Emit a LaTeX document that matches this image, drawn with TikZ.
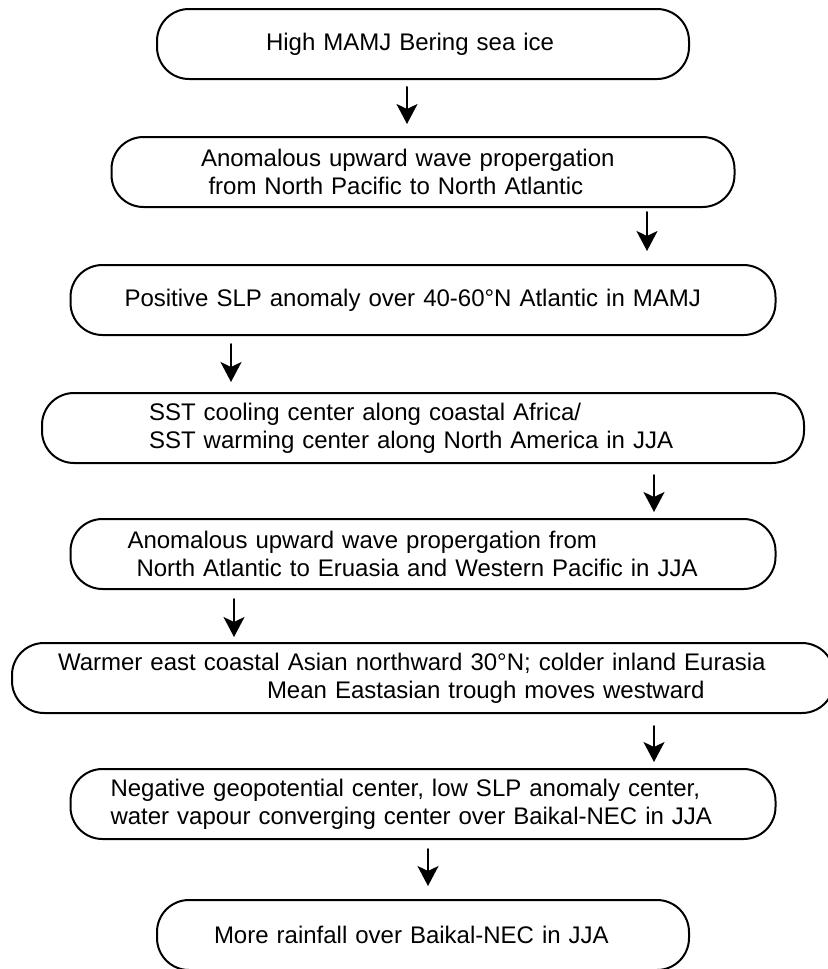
\documentclass[tikz,border=0pt]{standalone}
\usepackage{fontspec}
\setmainfont{Liberation Sans}
\usetikzlibrary{arrows.meta,calc}
\begin{document}
\begin{tikzpicture}[x=0.5pt,y=-0.5pt,font=\fontsize{12}{14}\selectfont,line cap=round,line join=round,
	stepbox/.style={draw,line width=1pt,rounded corners=16pt,minimum height=35pt,inner xsep=0pt,inner ysep=0pt,align=left},
	flow/.style={line width=1pt,-{Stealth[length=10pt,width=10.5pt,inset=2.5pt]}}]
	\useasboundingbox (0,0) rectangle (828,969);
	\node[stepbox,text width=266pt] (ice) at (423,44) {\hspace*{54.5pt}High MAMJ Bering sea ice};
	\node[stepbox,text width=311.5pt] (wave) at (423,172) {\hspace*{44.75pt}Anomalous upward wave propergation\\%
		\hspace*{48.5pt}from North Pacific to North Atlantic};
	\node[stepbox,text width=352.5pt] (slp) at (423,300) {\hspace*{27pt}Positive SLP anomaly over 40-60°N Atlantic in MAMJ};
	\node[stepbox,text width=381pt] (sst) at (423,428) {\hspace*{53.5pt}SST cooling center along coastal Africa/\\%
		\hspace*{53.5pt}SST warming center along North America in JJA};
	\node[stepbox,text width=352.5pt] (wavejja) at (423,554) {\hspace*{28.5pt}Anomalous upward wave propergation from\\%
		\hspace*{33pt}North Atlantic to Eruasia and Western Pacific in JJA};
	\node[stepbox,text width=411pt] (trough) at (423,678) {\hspace*{23pt}Warmer east coastal Asian northward 30°N; colder inland Eurasia\\%
		\hspace*{127.5pt}Mean Eastasian trough moves westward};
	\node[stepbox,text width=352.5pt] (geo) at (423,804) {\hspace*{20pt}Negative geopotential center, low SLP anomaly center,\\%
		\hspace*{20pt}water vapour converging center over Baikal-NEC in JJA};
	\node[stepbox,text width=266pt] (rain) at (423,935) {\hspace*{28.5pt}More rainfall over Baikal-NEC in JJA};
	\foreach \from/\to/\dx/\s/\e in {ice/wave/-16/3.5/6,wave/slp/224/2/6.5,slp/sst/-192/4/5,sst/wavejja/231/5.5/3,%
			wavejja/trough/-189/4.5/2.5,trough/geo/231/6/3,geo/rain/5/4.5/6.5}{
			\draw[flow,shorten <=\s pt,shorten >=\e pt] ($(\from.south)+(\dx,0)$) -- ($(\to.north)+(\dx,0)$);%arrows
		}
\end{tikzpicture}
\end{document}
